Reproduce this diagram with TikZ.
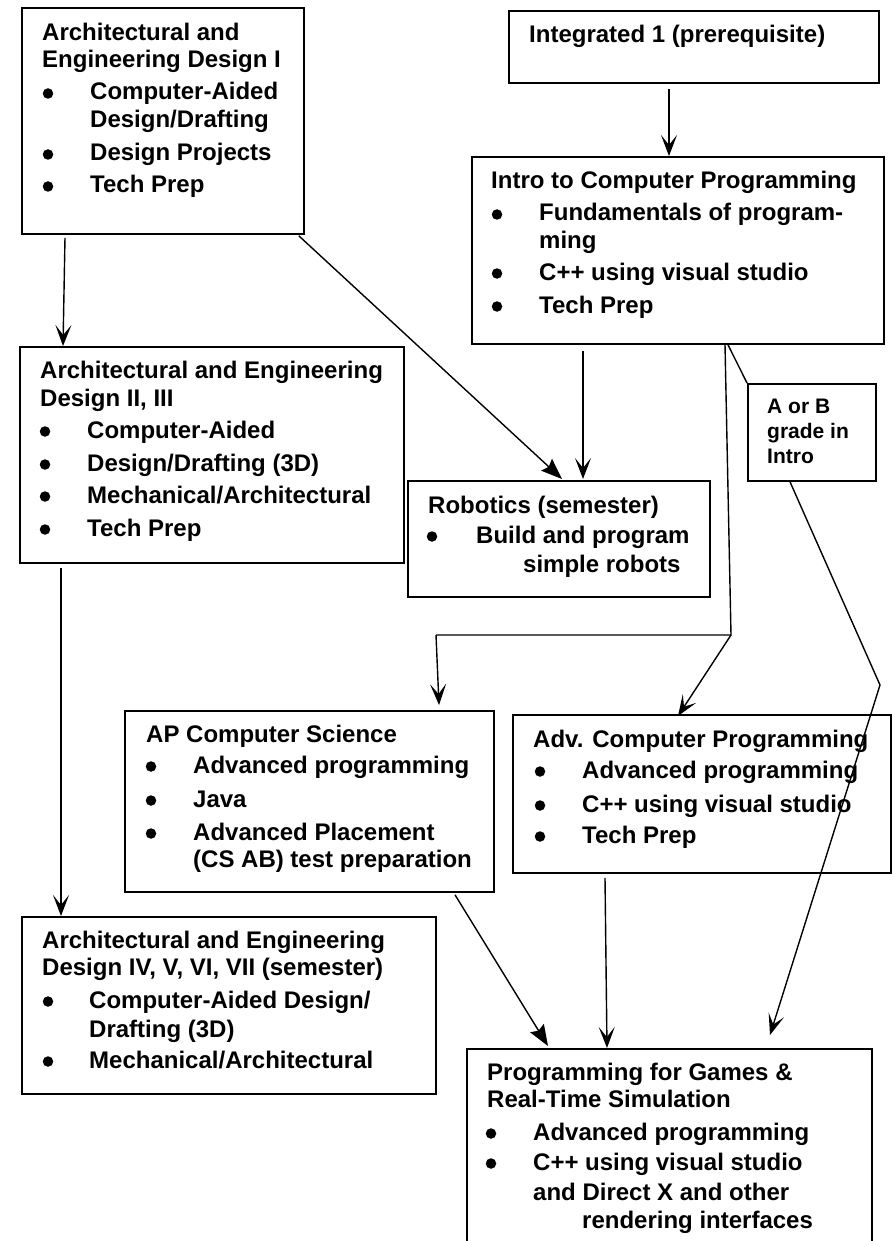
\documentclass[tikz,border=0pt]{standalone}
\usepackage{fontspec}
\setmainfont{Liberation Sans}
\usetikzlibrary{arrows.meta,calc}
\tikzset{
  box/.style={draw, line width=1.8pt, inner sep=0pt, anchor=north west},
  conn/.style={line width=1.4pt},
  barb/.style={conn, -{Stealth[length=21pt,width=16pt,inset=10pt]}},
  tri/.style={conn, -{Stealth[length=21pt,width=16pt,inset=3pt]}},
  txt/.style={anchor=base west, inner sep=0pt, font=\bfseries\fontsize{24}{27}\selectfont},
  stxt/.style={anchor=base west, inner sep=0pt, font=\bfseries\fontsize{21}{25}\selectfont},
  bul/.style={circle, fill, draw=none, inner sep=0pt, minimum size=10.5pt, yshift=6.5pt}
}
\begin{document}
\begin{tikzpicture}[x=1pt,y=-1pt]
\useasboundingbox (0,0) rectangle (893,1241);
\clip (0,0) rectangle (893,1241);

% ---------- boxes ----------
\node[box, minimum width=282pt, minimum height=226pt] (a1) at (21,7) {};
\node[box, minimum width=370pt, minimum height=72pt] (integ) at (508,10) {};
\node[box, minimum width=412pt, minimum height=187pt] (intro) at (471,156) {};
\node[box, minimum width=384pt, minimum height=216pt] (a2) at (19,346) {};
\node[box, minimum width=302pt, minimum height=116pt] (robo) at (407,480) {};
\node[box, minimum width=128pt, minimum height=97pt] (ab) at (747,383) {};
\node[box, minimum width=369pt, minimum height=181pt] (ap) at (124,710) {};
\node[box, minimum width=378pt, minimum height=158pt] (adv) at (512,714) {};
\node[box, minimum width=414pt, minimum height=177pt] (a4) at (21,916) {};
\node[box, minimum width=405pt, minimum height=220pt] (games) at (466,1048) {};

% ---------- texts ----------
% Arch I
\node[txt] (a1t1) at (42,41) {Architectural and};
\node[txt] (a1t2) at (42,68) {Engineering Design I};
\node[bul] (a1b1) at (48,100) {};
\node[txt] (a1i1) at (90,100) {Computer-Aided};
\node[txt] (a1i1b) at (90,128) {Design/Drafting};
\node[bul] (a1b2) at (48,161) {};
\node[txt] (a1i2) at (90,161) {Design Projects};
\node[bul] (a1b3) at (48,193) {};
\node[txt] (a1i3) at (90,193) {Tech Prep};

% Integrated
\node[txt] (integt) at (529,43) {Integrated 1 (prerequisite)};

% Intro
\node[txt] (introt) at (491,189) {Intro to Computer Programming};
\node[bul] (introb1) at (497,221) {};
\node[txt] (introi1) at (539,221) {Fundamentals of program-};
\node[txt] (introi1b) at (539,248) {ming};
\node[bul] (introb2) at (497,280) {};
\node[txt] (introi2) at (539,280) {C++ using visual studio};
\node[bul] (introb3) at (497,313) {};
\node[txt] (introi3) at (539,313) {Tech Prep};

% Arch II, III
\node[txt] (a2t1) at (40,378) {Architectural and Engineering};
\node[txt] (a2t2) at (40,406) {Design II, III};
\node[bul] (a2b1) at (45,438) {};
\node[txt] (a2i1) at (87,438) {Computer-Aided};
\node[bul] (a2b2) at (45,471) {};
\node[txt] (a2i2) at (87,471) {Design/Drafting (3D)};
\node[bul] (a2b3) at (45,503) {};
\node[txt] (a2i3) at (87,503) {Mechanical/Architectural};
\node[bul] (a2b4) at (45,536) {};
\node[txt] (a2i4) at (87,536) {Tech Prep};

% Robotics
\node[txt] (robot) at (428,513) {Robotics (semester)};
\node[bul] (robob1) at (432,543) {};
\node[txt] (roboi1) at (476,543) {Build and program};
\node[txt] (roboi1b) at (523,572) {simple robots};

% A or B
\node[stxt] (abt1) at (767,413) {A or B};
\node[stxt] (abt2) at (767,438) {grade in};
\node[stxt] (abt3) at (767,463) {Intro};

% AP
\node[txt] (apt) at (146,742) {AP Computer Science};
\node[bul] (apb1) at (151,773) {};
\node[txt] (api1) at (193,773) {Advanced programming};
\node[bul] (apb2) at (151,807) {};
\node[txt] (api2) at (193,807) {Java};
\node[bul] (apb3) at (151,840) {};
\node[txt] (api3) at (193,840) {Advanced Placement};
\node[txt] (api3b) at (193,867) {(CS AB) test preparation};

% Adv
\node[txt] (advt) at (533,747) {Adv. Computer Programming};
\node[bul] (advb1) at (540,778) {};
\node[txt] (advi1) at (582,778) {Advanced programming};
\node[bul] (advb2) at (540,812) {};
\node[txt] (advi2) at (582,812) {C++ using visual studio};
\node[bul] (advb3) at (540,843) {};
\node[txt] (advi3) at (582,843) {Tech Prep};

% Arch IV..VII
\node[txt] (a4t1) at (42,948) {Architectural and Engineering};
\node[txt] (a4t2) at (42,975) {Design IV, V, VI, VII (semester)};
\node[bul] (a4b1) at (48,1008) {};
\node[txt] (a4i1) at (89,1008) {Computer-Aided Design/};
\node[txt] (a4i1b) at (89,1037) {Drafting (3D)};
\node[bul] (a4b2) at (48,1068) {};
\node[txt] (a4i2) at (89,1068) {Mechanical/Architectural};

% Games
\node[txt] (gat1) at (487,1080) {Programming for Games \&};
\node[txt] (gat2) at (487,1107) {Real-Time Simulation};
\node[bul] (gab1) at (491,1140) {};
\node[txt] (gai1) at (533,1140) {Advanced programming};
\node[bul] (gab2) at (491,1170) {};
\node[txt] (gai2) at (533,1170) {C++ using visual studio};
\node[txt] (gai2b) at (533,1200) {and Direct X and other};
\node[txt] (gai2c) at (582,1228) {rendering interfaces};

% ---------- connectors ----------
\coordinate (j1) at (731,635);
\coordinate (j2) at (436,635);
\coordinate (k1) at (880,685);

\draw[barb] ($(integ.south west)+(161,5)$) -- ($(intro.north west)+(198,0)$);
\draw[barb] ($(a1.south west)+(44,3)$) -- ($(a2.north west)+(44,0)$);
\draw[tri]  ($(a1.south east)+(-6,1)$) -- ($(robo.north west)+(155,-1)$);
\draw[barb] ($(intro.south west)+(112,6)$) -- ($(robo.north west)+(176,-1)$);
\draw[conn] ($(intro.south west)+(254,0)$) -- (j1) -- (j2);
\draw[barb] (j2) -- ($(ap.north west)+(315,-5)$);
\draw[barb] (j1) -- ($(adv.north west)+(166,2)$);
\draw[conn] ($(intro.south west)+(257,0)$) -- (ab.north west);
\draw[conn] ($(ab.south west)+(43,0)$) -- (k1);
\draw[barb] (k1) -- ($(games.north west)+(304,-13)$);
\draw[barb] ($(a2.south west)+(42,4)$) -- ($(a4.north west)+(40,0)$);
\draw[tri]  ($(ap.south west)+(331,2)$) -- ($(games.north west)+(82,-2)$);
\draw[barb] ($(adv.south west)+(93,4)$) -- ($(games.north west)+(141,0)$);
\end{tikzpicture}
\end{document}
